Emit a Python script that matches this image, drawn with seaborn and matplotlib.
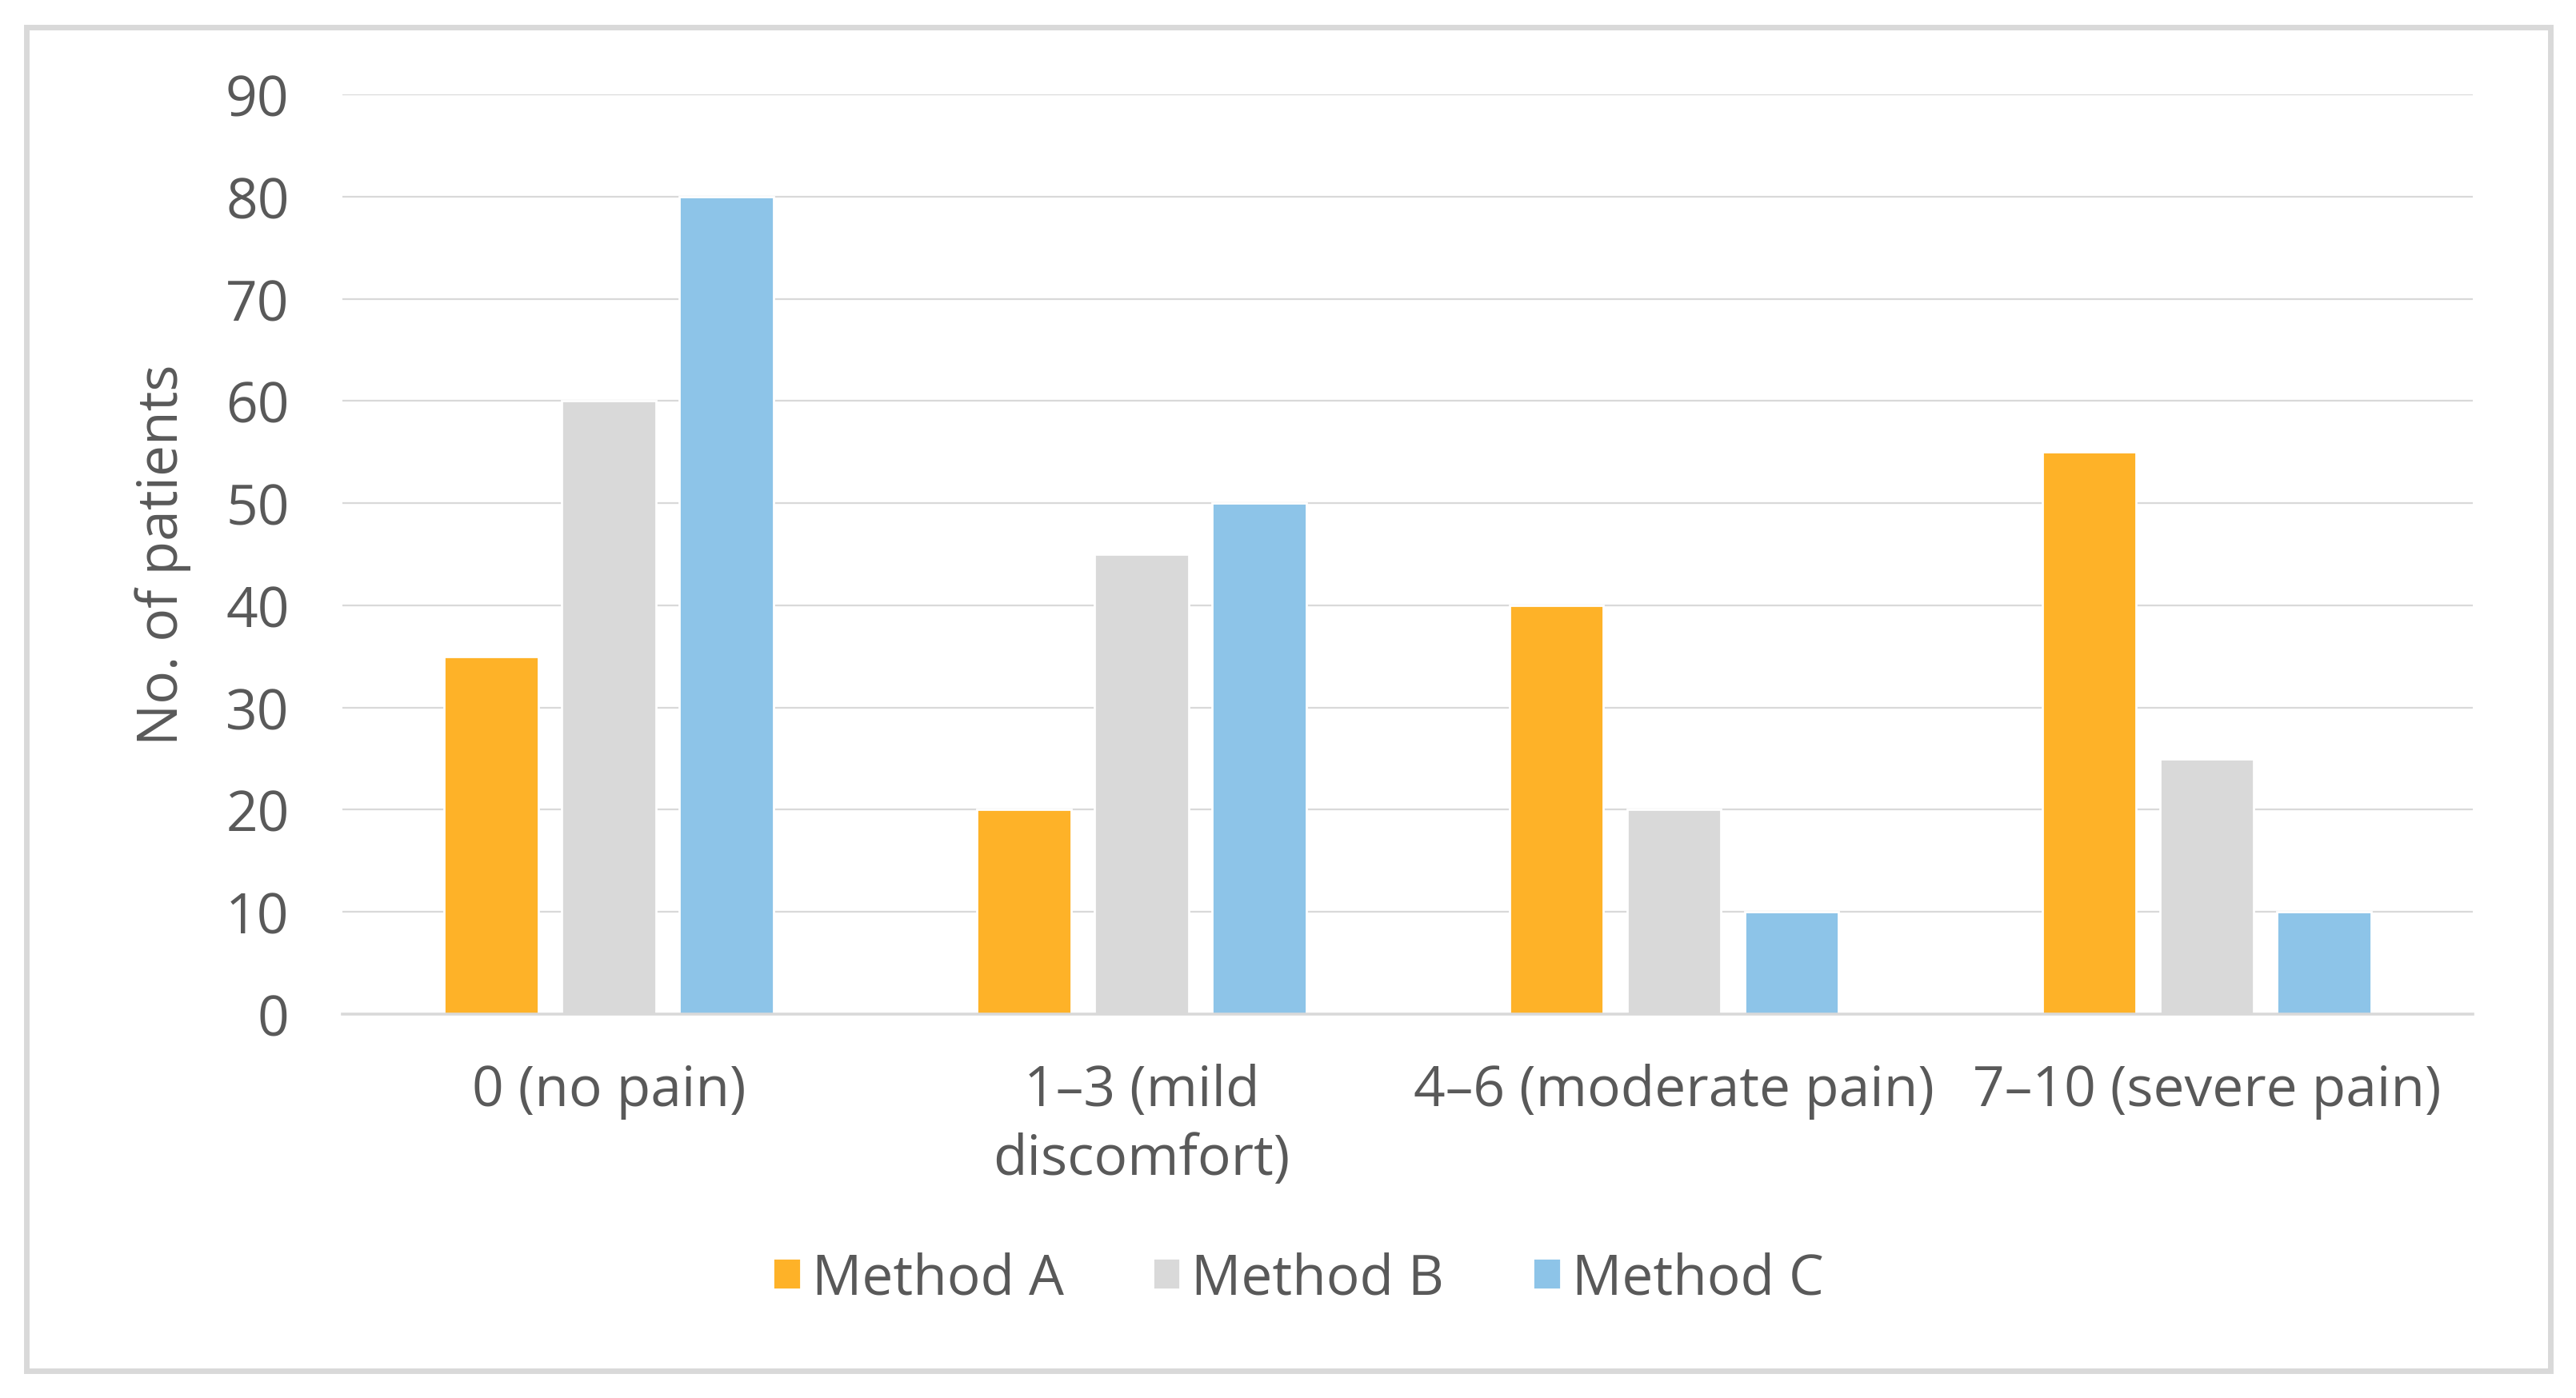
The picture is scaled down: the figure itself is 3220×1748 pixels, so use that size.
import matplotlib
matplotlib.use('Agg')
import matplotlib.pyplot as plt
import seaborn as sns
import pandas as pd
from matplotlib.patches import Rectangle

categories = ["0 (no pain)", "1\u20133 (mild\ndiscomfort)", "4\u20136 (moderate pain)", "7\u201310 (severe pain)"]
methods = ["Method A", "Method B", "Method C"]
method_a = [35, 20, 40, 55]
method_b = [60, 45, 20, 25]
method_c = [80, 50, 10, 10]
yticks = [0, 10, 20, 30, 40, 50, 60, 70, 80, 90]
colors = ["#FEB228", "#D9D9D9", "#8DC4E8"]

df = pd.DataFrame({
    "category": categories * 3,
    "method": [m for m in methods for _ in categories],
    "patients": method_a + method_b + method_c,
})

sns.set_theme(style="white")
plt.rcParams['font.family'] = ['Open Sans', 'DejaVu Sans']
txt = "#595959"

fig = plt.figure(figsize=(16.1, 8.745), dpi=200)
ax = fig.add_axes([0.133, 0.2744, 0.827, 0.6576])

sns.barplot(data=df, x="category", y="patients", hue="method", order=categories,
            hue_order=methods, palette=colors, width=0.662, gap=0.2,
            saturation=1, ax=ax, legend=True)

ax.set_ylim(0, 90)
ax.set_yticks(yticks)
ax.set_xlim(-0.5, 3.5)
ax.yaxis.grid(True, color="#D9D9D9", linewidth=0.8)
ax.set_axisbelow(True)
for s in ["top", "right", "left"]:
    ax.spines[s].set_visible(False)
ax.spines["bottom"].set_color("#D9D9D9")
ax.spines["bottom"].set_linewidth(1.3)
ax.tick_params(axis="y", length=0, pad=24, labelsize=25, labelcolor=txt)
ax.tick_params(axis="x", length=0, pad=22, labelsize=25, labelcolor=txt)
for lbl in ax.get_xticklabels():
    lbl.set_linespacing(1.3)
ax.set_xlabel("")
ax.set_ylabel("No. of patients", fontsize=25, color=txt)
ax.yaxis.set_label_coords(-0.071, 0.5)

ax.legend(loc="center", bbox_to_anchor=(0.504, 0.085), bbox_transform=fig.transFigure,
          ncol=3, frameon=False, fontsize=25, labelcolor=txt, handlelength=0.5,
          handleheight=0.5, handletextpad=0.2, columnspacing=1.6)

fig.patches.append(Rectangle((0.0102, 0.0194), 0.980, 0.9606, transform=fig.transFigure,
                             fill=False, edgecolor="#D9D9D9", linewidth=2.5))

fig.savefig("out.png", dpi=200, facecolor="white")
